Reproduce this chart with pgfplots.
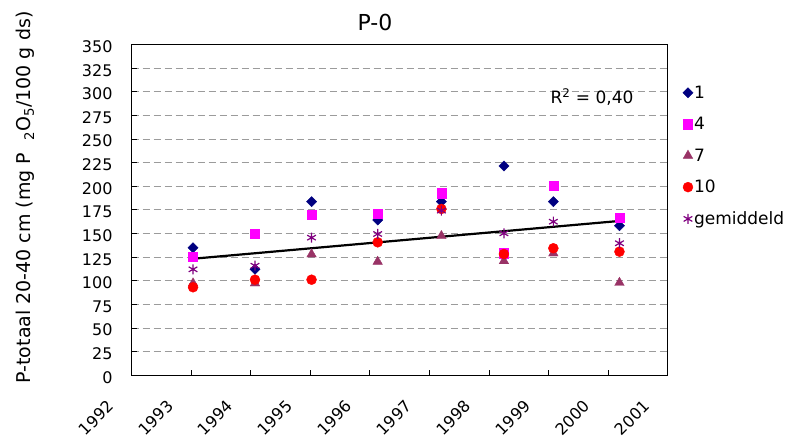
\documentclass[border=0pt]{standalone}
\usepackage{fontspec}
\setmainfont{DejaVu Sans}
\usepackage{pgfplots}
\pgfplotsset{compat=1.18}
\definecolor{cone}{RGB}{0,0,128}
\definecolor{cfour}{RGB}{255,0,255}
\definecolor{cseven}{RGB}{153,51,102}
\definecolor{cten}{RGB}{255,0,0}
\definecolor{cgem}{RGB}{128,0,128}
\definecolor{cgrid}{RGB}{155,155,155}
\begin{document}
\begin{tikzpicture}[x=1pt,y=1pt]
\useasboundingbox (0,0) rectangle (793,446);
\begin{axis}[
  at={(131.7pt,70.7pt)}, anchor=south west,
  scale only axis, width=536pt, height=330.6pt,
  xmin=1992, xmax=2001, ymin=0, ymax=350,
  xtick={1992,1993,...,2001}, ytick={0,25,...,350},
  tick align=inside, major tick length=5pt,
  xtick pos=bottom, ytick pos=left,
  tick style={black, line width=1pt},
  axis line style={black, line width=1.4pt},
  ymajorgrids,
  grid style={cgrid, line width=1pt, dash pattern=on 7pt off 4pt},
  /pgf/number format/assume math mode=true,
  /pgf/number format/1000 sep={},
  ticklabel style={font=\fontsize{16}{19}\selectfont},
  yticklabel style={inner sep=0pt, anchor=east, xshift=-19pt, yshift=-2pt},
  xticklabel style={inner sep=0pt, xshift=-21pt, yshift=-28pt, rotate=45, anchor=east},
  legend style={at={(rel axis cs:1,1)}, anchor=north west, xshift=12pt, yshift=-38pt,
     draw=none, fill=none, font=\fontsize{17}{20}\selectfont, row sep=15.5pt,
     nodes={inner sep=1pt}},
  legend cell align=left,
  legend image code/.code={\draw[mark repeat=2,mark phase=2,#1] plot coordinates {(0cm,0cm)(0.2cm,0cm)(0.4cm,0cm)};},
]
\addplot[only marks, mark=square*, mark size=3.6pt, mark options={rotate=45, fill=cone, draw=cone}, color=cone]
 coordinates {(1993.03,135.1)(1994.07,112.2)(1995.02,183.8)(1996.13,164.4)(1997.2,183.8)(1998.25,221.6)(1999.08,183.8)(2000.19,158.4)};
\addlegendentry{1}
\addplot[only marks, mark=square*, mark size=4.6pt, color=cfour, mark options={fill=cfour, draw=cfour}]
 coordinates {(1993.03,125.6)(1994.07,149.6)(1995.02,169.7)(1996.13,171.5)(1997.2,192.7)(1998.25,129.2)(1999.08,200.4)(2000.19,166.9)};
\addlegendentry{4}
\addplot[only marks, mark=triangle*, mark size=5.5pt, color=cseven, mark options={fill=cseven, draw=cseven}]
 coordinates {(1993.03,97.4)(1994.07,97.4)(1995.02,128.1)(1996.13,120.3)(1997.2,147.5)(1998.25,121.0)(1999.08,129.2)(2000.19,98.0)};
\addlegendentry{7}
\addplot[only marks, mark=*, mark size=5pt, color=cten, mark options={fill=cten, draw=cten}]
 coordinates {(1993.03,93.2)(1994.07,101.2)(1995.02,101.2)(1996.13,140.8)(1997.2,176.1)(1998.25,128.4)(1999.08,134.5)(2000.19,130.9)};
\addlegendentry{10}
\addplot[only marks, mark=asterisk, mark size=5pt, color=cgem, mark options={line width=1.2pt}]
 coordinates {(1993.03,112.2)(1994.07,116.0)(1995.02,145.7)(1996.13,149.6)(1997.2,174.3)(1998.25,150.3)(1999.08,162.6)(2000.19,139.8)};
\addlegendentry{gemiddeld}
\addplot[black, line width=2.2pt, mark=none, forget plot]
 coordinates {(1993.03,123.4)(2000.19,163.4)};
\node[font=\fontsize{17}{20}\selectfont] at (axis cs:1999.73,294.6) {R\textsuperscript{2} = 0,40};
\end{axis}
\node[font=\fontsize{22}{26}\selectfont] at (375,423) {P-0};
\node[rotate=90, font=\fontsize{19}{23}\selectfont] at (25,248.5) {P-totaal 20-40 cm (mg P \ \textsubscript{2}O\textsubscript{5}/100 g ds)};
\end{tikzpicture}
\end{document}
